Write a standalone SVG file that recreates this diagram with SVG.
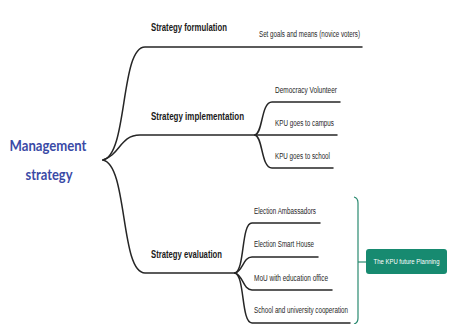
<svg xmlns="http://www.w3.org/2000/svg" width="453" height="324" viewBox="0 0 453 324">
<style>
.bg{fill:#ffffff}
.ln{fill:none;stroke:#262626;stroke-width:1.5;stroke-linecap:round}
.br{fill:none;stroke:#2a8a70;stroke-width:1.2}
.root{font-family:"Lato","Liberation Sans",sans-serif;font-weight:bold;font-size:16px;fill:#3a4aa6;text-anchor:middle}
.t1{font-family:"Liberation Sans",sans-serif;font-weight:bold;font-size:10.5px;fill:#1a1a1a}
.t2{font-family:"Liberation Sans",sans-serif;font-size:8.5px;fill:#262626}
.box{fill:#178a70}
.bt{font-family:"Liberation Sans",sans-serif;font-size:7px;fill:#ffffff;text-anchor:middle}
</style>
<rect class="bg" x="0" y="0" width="453" height="324"/>
<g id="connectors">
<path class="ln" d="M103,160 C128,155 120,47 145,47 H362"/>
<path class="ln" d="M103,160 C120,155 120,135 140,135 H255"/>
<path class="ln" d="M103,160 C128,165 120,273 145,273 H235"/>
<path class="ln" d="M255,135 C263,133 261,102 272,102 H340"/>
<path class="ln" d="M255,135 H337"/>
<path class="ln" d="M255,135 C263,137 261,168 272,168 H333"/>
<path class="ln" d="M235,273 C245,270 241,223 252,223 H320"/>
<path class="ln" d="M235,273 C243,271 243,257 252,257 H318"/>
<path class="ln" d="M235,273 C243,275 243,290 252,290 H332"/>
<path class="ln" d="M235,273 C245,276 241,323 252,323 H350"/>
<path class="br" d="M354,197 Q358,198 358,203 V318 Q358,323 354,324"/>
<path class="br" d="M358,262 H367"/>
</g>
<g id="root">
<text class="root" x="48" y="151" textLength="77" lengthAdjust="spacingAndGlyphs">Management</text>
<text class="root" x="49" y="180" textLength="47" lengthAdjust="spacingAndGlyphs">strategy</text>
</g>
<g id="formulation">
<text class="t1" x="151" y="31" textLength="76" lengthAdjust="spacingAndGlyphs">Strategy formulation</text>
</g>
<g id="goals">
<text class="t2" x="259" y="37" textLength="101" lengthAdjust="spacingAndGlyphs">Set goals and means (novice voters)</text>
</g>
<g id="implementation">
<text class="t1" x="151" y="120" textLength="93" lengthAdjust="spacingAndGlyphs">Strategy implementation</text>
</g>
<g id="democracy">
<text class="t2" x="275" y="93" textLength="62" lengthAdjust="spacingAndGlyphs">Democracy Volunteer</text>
</g>
<g id="campus">
<text class="t2" x="275" y="126" textLength="59" lengthAdjust="spacingAndGlyphs">KPU goes to campus</text>
</g>
<g id="school">
<text class="t2" x="275" y="159" textLength="55" lengthAdjust="spacingAndGlyphs">KPU goes to school</text>
</g>
<g id="evaluation">
<text class="t1" x="151" y="258" textLength="71" lengthAdjust="spacingAndGlyphs">Strategy evaluation</text>
</g>
<g id="ambassadors">
<text class="t2" x="254" y="214" textLength="62" lengthAdjust="spacingAndGlyphs">Election Ambassadors</text>
</g>
<g id="smarthouse">
<text class="t2" x="254" y="247" textLength="60" lengthAdjust="spacingAndGlyphs">Election Smart House</text>
</g>
<g id="mou">
<text class="t2" x="254" y="281" textLength="74" lengthAdjust="spacingAndGlyphs">MoU with education office</text>
</g>
<g id="cooperation">
<text class="t2" x="254" y="313" textLength="94" lengthAdjust="spacingAndGlyphs">School and university cooperation</text>
</g>
<g id="planning">
<rect class="box" x="366" y="249" width="81" height="25" rx="3"/>
<text class="bt" x="406.5" y="264" textLength="66" lengthAdjust="spacingAndGlyphs">The KPU future Planning</text>
</g>
</svg>
